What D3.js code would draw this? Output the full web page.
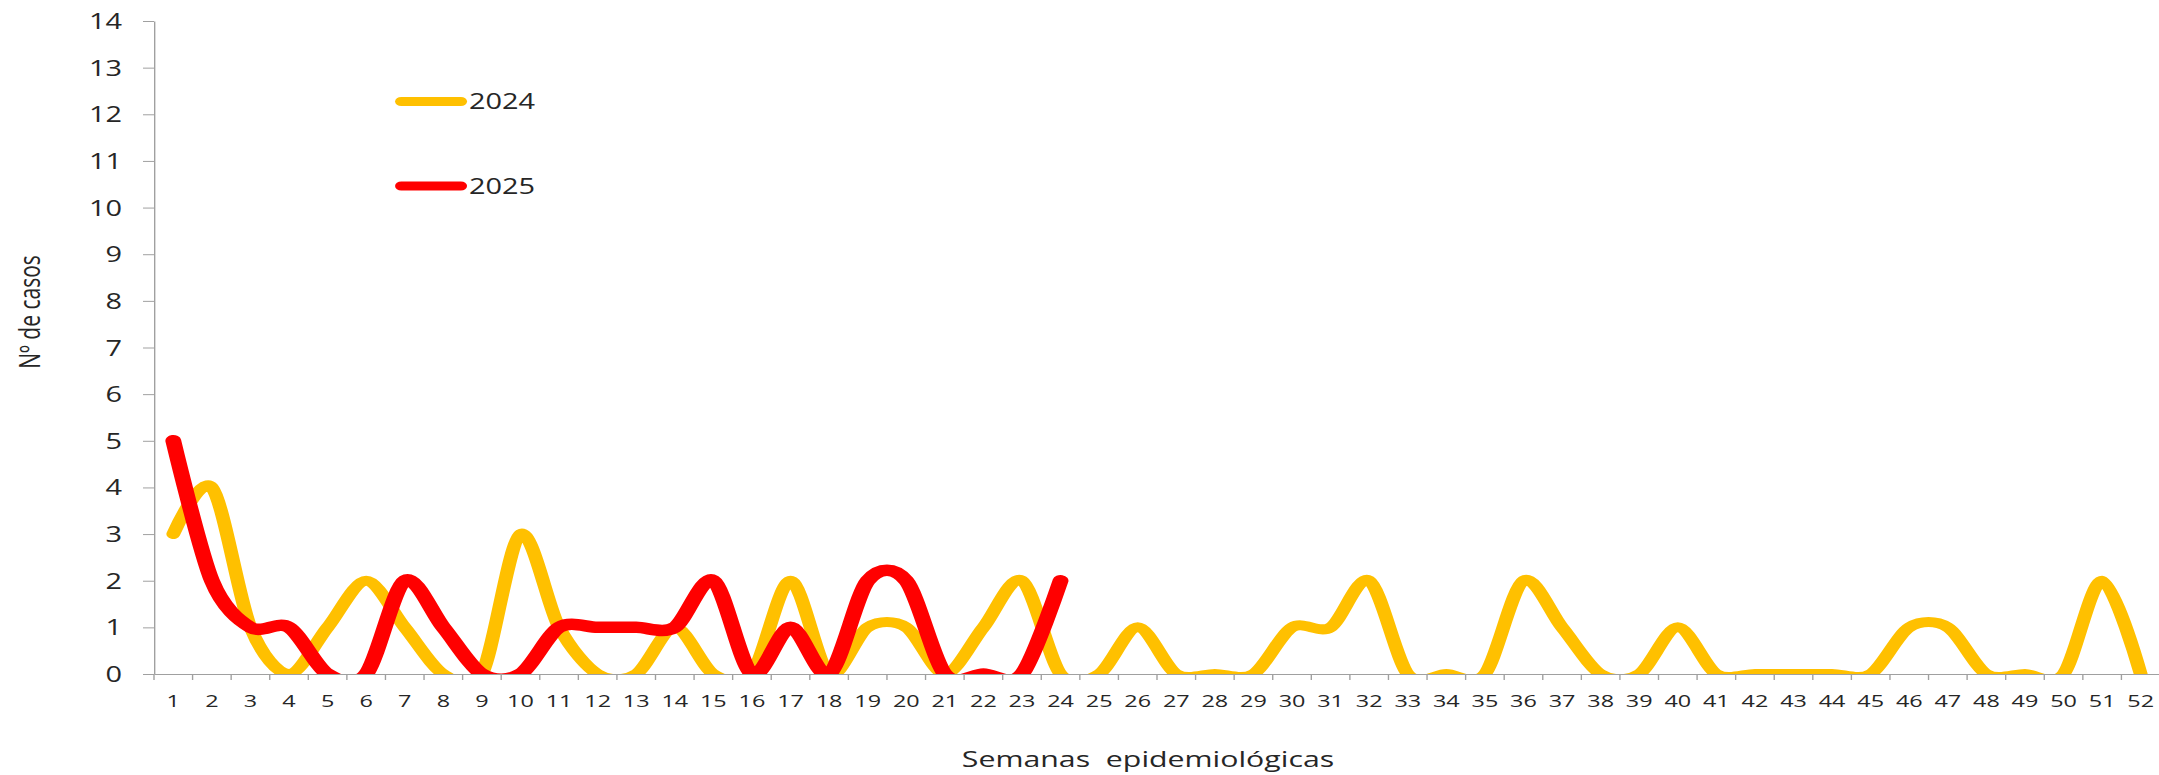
<!DOCTYPE html>
<html>
<head>
<meta charset="utf-8">
<script src="https://cdn.jsdelivr.net/npm/d3@7"></script>
<style>
  html, body { margin: 0; padding: 0; background: #fff; }
  svg { display: block; }
  text { font-family: "Open Sans", "Noto Sans", sans-serif; fill: #262626; }
</style>
</head>
<body>
<svg id="chart" width="2159" height="775"></svg>
<script>
const weeks = d3.range(1, 53);
const cases2024 = [3,4,1,0,1,2,1,0,0,3,1,0,0,1,0,0,2,0,1,1,0,1,2,0,0,1,0,0,0,1,1,2,0,0,0,2,1,0,0,1,0,0,0,0,0,1,1,0,0,0,2,0];
const cases2025 = [5,2,1,1,0,0,2,1,0,0,1,1,1,1,2,0,1,0,2,2,0,0,0,2];
const yTicks = d3.range(0, 15);
const seriesNames = ["2024", "2025"];
const seriesColors = ["#FFC000", "#FF0000"];
const seriesWidths = [10, 11.5];

(function () {
const W = 2159, H = 775;
const SX = W / 1568;            // horizontal stretch of the original picture
const pLeft = 154 / SX, pRight = 2160 / SX;
const pTop = 21, pBottom = 674;

const svg = d3.select("#chart");
const root = svg.append("g").attr("transform", `scale(${SX},1)`);

const x = d3.scaleBand().domain(weeks).range([pLeft, pRight]).paddingInner(0).paddingOuter(0);
const y = d3.scaleLinear().domain([0, 14]).range([pBottom, pTop]);
const cx = d => x(d) + x.bandwidth() / 2;

// clip
root.append("clipPath").attr("id", "plotclip")
  .append("rect").attr("x", pLeft).attr("y", pTop - 20).attr("width", pRight - pLeft).attr("height", pBottom - pTop + 20);

// Y axis
const yAxis = root.append("g").attr("transform", `translate(${pLeft},0)`)
  .call(d3.axisLeft(y).tickValues(yTicks).tickSize(8).tickSizeOuter(0).tickFormat(d3.format("d")));
yAxis.selectAll("path, line").attr("stroke", "#a0a0a0");
yAxis.selectAll("text").attr("x", -23.2).attr("font-size", 21).attr("dy", "0.36em")
  .style("font-family", "'Open Sans', sans-serif").attr("fill", "#262626");

// X axis: labels centered on bands
const xAxis = root.append("g").attr("transform", `translate(0,${pBottom})`)
  .call(d3.axisBottom(x).tickSize(0).tickSizeOuter(0));
xAxis.select("path").attr("stroke", "#a0a0a0");
xAxis.selectAll("text").attr("y", 33).attr("dy", 0).attr("font-size", 17)
  .style("font-family", "'Open Sans', sans-serif").attr("fill", "#262626");
// boundary tick marks
const bounds = d3.range(0, weeks.length + 1).map(i => pLeft + i * x.bandwidth());
root.append("g").selectAll("line").data(bounds).join("line")
  .attr("x1", d => d).attr("x2", d => d).attr("y1", pBottom).attr("y2", pBottom + 6)
  .attr("stroke", "#a0a0a0").attr("stroke-width", 1);

// Lines (smoothed like the spreadsheet's smooth line)
const line = d3.line()
  .x((d, i) => cx(weeks[i]))
  .y(d => y(d))
  .curve(d3.curveCardinal.tension(0.1));

const plot = root.append("g").attr("clip-path", "url(#plotclip)");
[cases2024, cases2025].forEach((vals, k) => {
  plot.append("path").datum(vals)
    .attr("d", line)
    .attr("fill", "none")
    .attr("stroke", seriesColors[k])
    .attr("stroke-width", seriesWidths[k])
    .attr("stroke-linecap", "round")
    .attr("stroke-linejoin", "round");
});

// Legend
const legendY = [101.5, 186];
const legend = root.append("g");
seriesNames.forEach((name, k) => {
  legend.append("line")
    .attr("x1", 291.4).attr("x2", 334.7)
    .attr("y1", legendY[k]).attr("y2", legendY[k])
    .attr("stroke", seriesColors[k]).attr("stroke-width", 9).attr("stroke-linecap", "round");
  legend.append("text")
    .attr("x", 340.6).attr("y", legendY[k]).attr("dy", "0.36em")
    .attr("font-size", 21).text(name);
});

// Axis titles
root.append("text")
  .attr("transform", `translate(21.5,312) rotate(-90)`)
  .attr("text-anchor", "middle").attr("dy", "0.35em")
  .attr("font-size", 21).text("Nº de casos");

root.append("text")
  .attr("x", 1148 / SX).attr("y", 767)
  .attr("text-anchor", "middle")
  .attr("font-size", 22)
  .style("white-space", "pre")
  .text("Semanas  epidemiológicas");
})();
</script>
</body>
</html>
